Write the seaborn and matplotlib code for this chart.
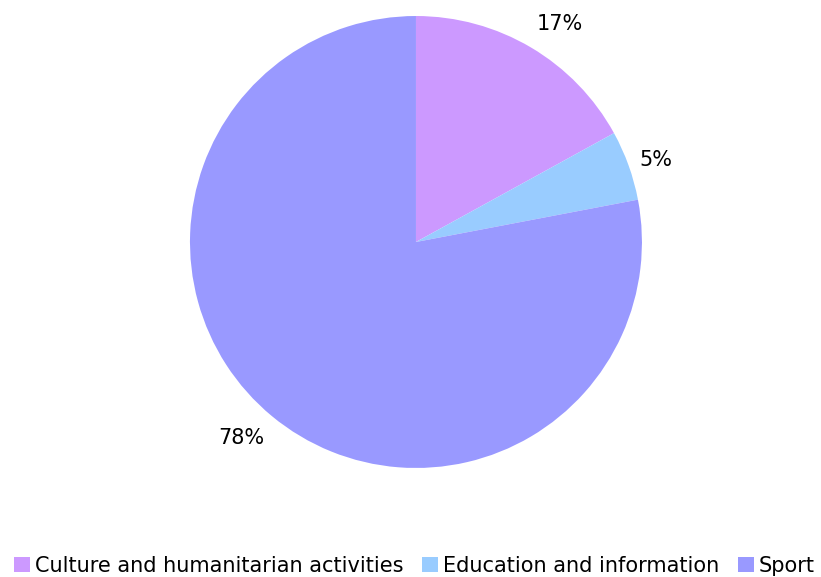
import matplotlib
matplotlib.use("Agg")
import matplotlib.pyplot as plt
from matplotlib.patches import Patch
import numpy as np
import seaborn as sns

categories = ["Culture and humanitarian activities", "Education and information", "Sport"]
shares = [17, 5, 78]
colors = ["#CC99FF", "#99CCFF", "#9999FF"]

sns.set_theme(style="white")
plt.rcParams["font.family"] = ["DejaVu Sans"]

fig = plt.figure(figsize=(8.21, 5.77), dpi=100)
ax = fig.add_axes([0.2314, 0.1889, 0.5505, 0.7834])

wedges, texts, autotexts = ax.pie(
    shares,
    colors=sns.color_palette(colors),
    startangle=90,
    counterclock=False,
    autopct="%1.0f%%",
    wedgeprops=dict(linewidth=0),
    textprops=dict(fontsize=15, color="black"),
)
# put the labels just outside the rim, aligned like excel does
for w, t in zip(wedges, autotexts):
    ang = np.deg2rad((w.theta1 + w.theta2) / 2)
    x, y = np.cos(ang), np.sin(ang)
    t.set_position((1.05 * x, 1.07 * y))
    t.set_ha("left" if x >= 0 else "right")
    t.set_va("bottom" if y >= 0.5 else ("top" if y <= -0.5 else "center"))

ax.set_xlim(-1, 1)
ax.set_ylim(-1, 1)
ax.set_aspect("equal")

handles = [Patch(facecolor=c, edgecolor="none") for c in colors]
fig.legend(
    handles, categories,
    loc="center", bbox_to_anchor=(0.505, 11 / 577),
    ncol=3, frameon=False, fontsize=15, labelcolor="black",
    handlelength=0.75, handleheight=0.75, handletextpad=0.25, columnspacing=0.9,
    borderpad=0, borderaxespad=0,
)

fig.savefig("out.png", dpi=100)
